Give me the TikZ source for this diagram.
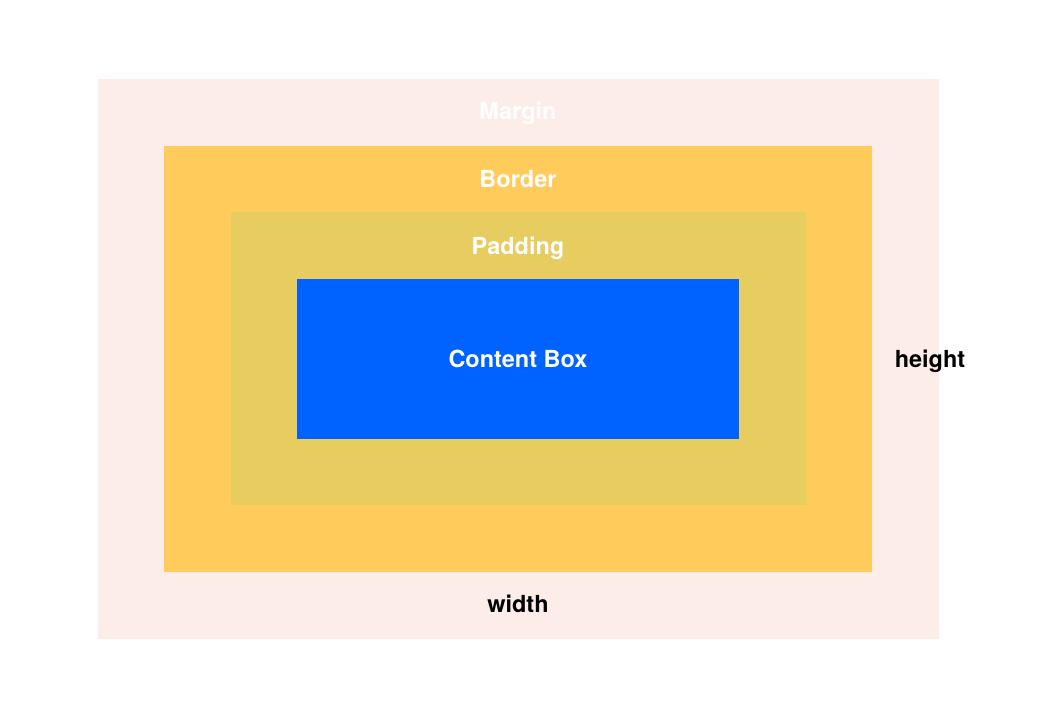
\documentclass[tikz,border=0pt]{standalone}
\usepackage{fontspec}
\setmainfont{TeX Gyre Heros}
\definecolor{marginc}{HTML}{FDEDE9}
\definecolor{borderc}{HTML}{FFCC5C}
\definecolor{paddingc}{HTML}{E7CC5F}
\definecolor{contentc}{HTML}{0062FF}
\begin{document}
\begin{tikzpicture}[x=1pt,y=-1pt,
  lab/.style={font=\fontsize{23.5}{26}\selectfont\bfseries, inner sep=0pt, anchor=base},
  wlab/.style={lab, text=white},
  blab/.style={lab, text=black}]
\useasboundingbox (0,0) rectangle (1045,704);
\fill[white] (0,0) rectangle (1045,704);
\fill[marginc] (98,79) rectangle (939,639);
\fill[borderc] (164,146) rectangle (872,572);
\fill[paddingc] (231,212) rectangle (806,505);
\fill[contentc] (297,279) rectangle (739,439);
\node[wlab] (margin) at (518,119) {Margin};
\node[wlab] (border) at (518,187) {Border};
\node[wlab] (padding) at (518,254) {Padding};
\node[wlab] (content) at (518,367) {Content Box};
\node[blab] (height) at (930,367) {height};
\node[blab] (width) at (518,612) {width};
\end{tikzpicture}
\end{document}
